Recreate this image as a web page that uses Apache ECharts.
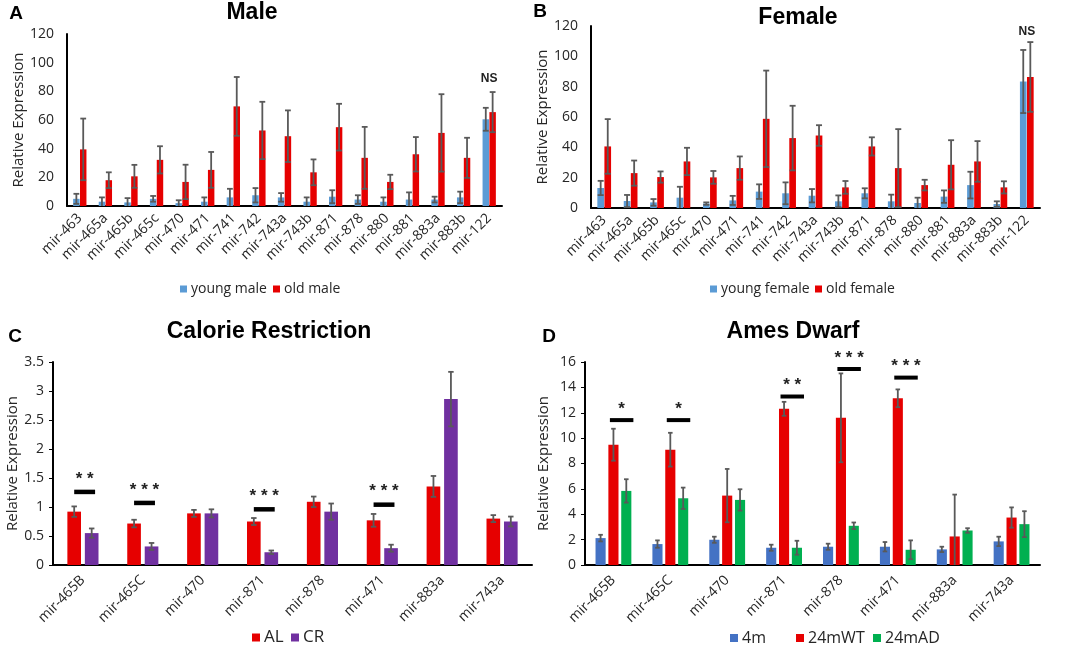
<!DOCTYPE html>
<html><head><meta charset="utf-8">
<script src="https://cdn.jsdelivr.net/npm/echarts@6/dist/echarts.min.js"></script>
<style>html,body{margin:0;padding:0;background:#fff}#c{width:1065px;height:647px}</style>
</head><body><div id="c"></div>
<script>
const catsAB = ['mir-463','mir-465a','mir-465b','mir-465c','mir-470','mir-471','mir-741','mir-742','mir-743a','mir-743b','mir-871','mir-878','mir-880','mir-881','mir-883a','mir-883b','mir-122'];
const youngMale    = [5, 3, 2.5, 5, 2, 3, 6, 7.5, 6, 3, 6.5, 4.5, 3, 4.5, 4.5, 6, 60.5];
const youngMaleErr = [3.5, 3, 3, 2, 2, 3, 6, 5, 3, 3, 4.5, 3, 3, 5, 2, 4, 8];
const oldMale      = [39.5, 18, 20.7, 32.2, 16.8, 25.2, 69.5, 52.7, 48.7, 23.5, 55, 33.6, 16.8, 36.1, 51, 33.6, 65.5];
const oldMaleErr   = [21.5, 5.5, 8, 9.5, 12, 12.5, 20.5, 20, 18, 9, 16.3, 21.6, 5, 12, 27, 14, 14];
const youngFemale    = [13.2, 4.6, 3.7, 6.8, 2.9, 5, 10.8, 9.7, 8.1, 4.4, 9.7, 4.4, 3.3, 7.5, 15.1, 2.6, 83.4];
const youngFemaleErr = [4.7, 4, 2.2, 7.2, 0.8, 3, 4.8, 7.2, 4.4, 3.9, 3.3, 4.4, 3.5, 4.1, 8.8, 1.8, 20.8];
const oldFemale      = [40.6, 23, 20.4, 30.7, 20.2, 26.3, 58.8, 46.1, 47.8, 13.6, 40.6, 26.3, 15.1, 28.5, 30.7, 13.6, 86.4];
const oldFemaleErr   = [18, 8.3, 3.7, 9, 4.2, 7.7, 31.8, 21.3, 6.8, 4.2, 6, 25.7, 3.5, 16.2, 13.4, 4, 23];
const nsA = [[16, 89, 'NS']];
const nsB = [[16, 116, 'NS']];

const catsCD = ['mir-465B','mir-465C','mir-470','mir-871','mir-878','mir-471','mir-883a','mir-743a'];
const crAL    = [0.92, 0.715, 0.89, 0.75, 1.09, 0.77, 1.355, 0.8];
const crALErr = [0.09, 0.065, 0.06, 0.06, 0.09, 0.11, 0.18, 0.06];
const crCR    = [0.55, 0.32, 0.89, 0.22, 0.92, 0.29, 2.86, 0.75];
const crCRErr = [0.08, 0.06, 0.07, 0.03, 0.14, 0.06, 0.47, 0.085];
const sigC = [[0, 1.26, '**'], [1, 1.07, '***'], [3, 0.96, '***'], [5, 1.04, '***']];

const dw4m    = [2.12, 1.65, 1.99, 1.36, 1.44, 1.44, 1.23, 1.86];
const dw4mErr = [0.26, 0.29, 0.24, 0.24, 0.24, 0.37, 0.21, 0.37];
const dwWT    = [9.48, 9.09, 5.47, 12.31, 11.6, 13.14, 2.25, 3.74];
const dwWTErr = [1.26, 1.33, 2.1, 0.55, 3.5, 0.7, 3.3, 0.8];
const dwAD    = [5.84, 5.26, 5.13, 1.36, 3.09, 1.2, 2.72, 3.22];
const dwADErr = [0.92, 0.84, 0.84, 0.55, 0.26, 0.74, 0.18, 1.02];
const sigD = [[0, 11.42, '*'], [1, 11.42, '*'], [3, 13.28, '**'], [4, 15.45, '***'], [5, 14.77, '***']];

const FONT = 'Open Sans';
const RED = '#E60000', BLUE_L = '#5B9BD5', PURPLE = '#7030A0', BLUE_D = '#4472C4', GREEN = '#00B050';
const ERRC = '#595959';

const geo = [
  {n: 2, cg: 0.48, bg: 0.06},
  {n: 2, cg: 0.48, bg: 0.06},
  {n: 2, cg: 0.48, bg: 0.28},
  {n: 3, cg: 0.37, bg: 0.27}
];
function barPos(g, W, i) {
  const tot = W * (1 - g.cg);
  const b = tot / (g.n + (g.n - 1) * g.bg);
  return {off: -tot / 2 + b / 2 + i * b * (1 + g.bg), b: b};
}

function errSeries(p, i, vals, errs, capFrac) {
  const g = geo[p];
  return {
    type: 'custom', xAxisIndex: p, yAxisIndex: p, z: 5, silent: true,
    data: vals.map((v, k) => [k, v, errs[k]]),
    renderItem: function (params, api) {
      const k = api.value(0), v = api.value(1), e = api.value(2);
      const W = api.size([1, 0])[0];
      const bp = barPos(g, W, i);
      const cx = api.coord([k, 0])[0] + bp.off;
      const hiY = api.coord([k, v + e])[1];
      const loV = Math.max(0, v - e);
      const loY = api.coord([k, loV])[1];
      const cw = bp.b * capFrac / 2;
      const st = {stroke: ERRC, lineWidth: 1.8};
      const ch = [
        {type: 'line', shape: {x1: cx, y1: hiY, x2: cx, y2: loY}, style: st},
        {type: 'line', shape: {x1: cx - cw, y1: hiY, x2: cx + cw, y2: hiY}, style: st}
      ];
      if (v - e > 0) ch.push({type: 'line', shape: {x1: cx - cw, y1: loY, x2: cx + cw, y2: loY}, style: st});
      return {type: 'group', children: ch};
    }
  };
}

function sigSeries(p, data, sA, eA, sB, eB, thick, fs, gapPx) {
  const g = geo[p];
  return {
    type: 'custom', xAxisIndex: p, yAxisIndex: p, z: 6, silent: true,
    data: data,
    renderItem: function (params, api) {
      const k = api.value(0), y = api.value(1);
      const txt = data[params.dataIndex][2];
      const W = api.size([1, 0])[0];
      const a = barPos(g, W, sA), b = barPos(g, W, sB);
      const base = api.coord([k, y]);
      const x1 = base[0] + a.off + eA * a.b, x2 = base[0] + b.off + eB * b.b;
      return {type: 'group', children: [
        {type: 'rect', shape: {x: x1, y: base[1] - thick / 2, width: x2 - x1, height: thick}, style: {fill: '#000'}},
        {type: 'text', x: (x1 + x2) / 2, y: base[1] - gapPx,
         style: {text: txt.split('').join(' '), font: 'bold ' + fs + 'px "Liberation Sans"', fill: '#222', textAlign: 'center', textVerticalAlign: 'middle'}}
      ]};
    }
  };
}

function nsSeries(p, data) {
  return {
    type: 'custom', xAxisIndex: p, yAxisIndex: p, z: 6, silent: true, data: data,
    renderItem: function (params, api) {
      const c = api.coord([api.value(0), api.value(1)]);
      return {type: 'text', x: c[0], y: c[1],
        style: {text: data[params.dataIndex][2], font: 'bold 12px "Liberation Sans"', fill: '#222', textAlign: 'center', textVerticalAlign: 'middle'}};
    }
  };
}

function bar(p, name, vals, color, g) {
  return {type: 'bar', name: name, xAxisIndex: p, yAxisIndex: p, data: vals,
    itemStyle: {color: color}, barCategoryGap: (g.cg * 100) + '%', barGap: (g.bg * 100) + '%', z: 3};
}

const grids = [
  {left: 67, top: 34, width: 435, height: 172},
  {left: 591, top: 26, width: 449, height: 182},
  {left: 53, top: 362, width: 479, height: 203},
  {left: 585, top: 362, width: 455, height: 203}
];

function xAx(p, cats, fs, margin) {
  return {type: 'category', gridIndex: p, data: cats,
    axisLine: {lineStyle: {color: '#000', width: 2}}, axisTick: {show: false},
    axisLabel: {rotate: 45, interval: 0, margin: margin, fontFamily: FONT, fontSize: fs, color: '#262626'}};
}
function yAx(p, max, interval, gap, ticks) {
  return {type: 'value', gridIndex: p, min: 0, max: max, interval: interval,
    name: 'Relative Expression', nameLocation: 'middle', nameGap: gap,
    nameTextStyle: {fontFamily: FONT, fontSize: 15, color: '#262626'},
    splitLine: {show: false},
    axisLine: {show: true, lineStyle: {color: '#000', width: 2}},
    axisTick: {show: ticks, length: 4, lineStyle: {color: '#000'}},
    axisLabel: {fontFamily: FONT, fontSize: 14, color: '#262626', margin: ticks ? 9 : 13}};
}
function leg(name, left, top, size, fs) {
  return {data: [name], left: left, top: top, padding: 0, itemWidth: size, itemHeight: size, icon: 'rect',
    textStyle: {fontFamily: FONT, fontSize: fs, color: '#262626', padding: [0, 0, 0, -1]}};
}

const chart = echarts.init(document.getElementById('c'), null, {renderer: 'canvas'});
chart.setOption({
  animation: false,
  backgroundColor: '#fff',
  grid: grids,
  xAxis: [xAx(0, catsAB, 14, 10), xAx(1, catsAB, 14, 10), xAx(2, catsCD, 14, 13), xAx(3, catsCD, 14, 13)],
  yAxis: [yAx(0, 120, 20, 40, false), yAx(1, 120, 20, 38, false), yAx(2, 3.5, 0.5, 31, true), yAx(3, 16, 2, 34, true)],
  legend: [
    leg('young male', 180, 282, 7, 14),
    leg('old male', 273, 282, 7, 14),
    leg('young female', 710, 282, 7, 14),
    leg('old female', 815, 282, 7, 14),
    leg('AL', 252, 629, 8, 17),
    leg('CR', 291, 629, 8, 17),
    leg('4m', 730, 630, 8, 16),
    leg('24mWT', 796, 630, 8, 16),
    leg('24mAD', 873, 630, 8, 16)
  ],
  graphic: [
    {type: 'text', x: 252, y: 13, style: {text: 'Male', font: 'bold 23px "Liberation Sans"', fill: '#000', textAlign: 'center', textVerticalAlign: 'middle'}},
    {type: 'text', x: 798, y: 18, style: {text: 'Female', font: 'bold 23px "Liberation Sans"', fill: '#000', textAlign: 'center', textVerticalAlign: 'middle'}},
    {type: 'text', x: 269, y: 332, style: {text: 'Calorie Restriction', font: 'bold 23px "Liberation Sans"', fill: '#000', textAlign: 'center', textVerticalAlign: 'middle'}},
    {type: 'text', x: 793, y: 332, style: {text: 'Ames Dwarf', font: 'bold 23px "Liberation Sans"', fill: '#000', textAlign: 'center', textVerticalAlign: 'middle'}},
    {type: 'text', x: 16, y: 14, style: {text: 'A', font: 'bold 19px "Liberation Sans"', fill: '#000', textAlign: 'center', textVerticalAlign: 'middle'}},
    {type: 'text', x: 540, y: 12, style: {text: 'B', font: 'bold 19px "Liberation Sans"', fill: '#000', textAlign: 'center', textVerticalAlign: 'middle'}},
    {type: 'text', x: 15, y: 337, style: {text: 'C', font: 'bold 19px "Liberation Sans"', fill: '#000', textAlign: 'center', textVerticalAlign: 'middle'}},
    {type: 'text', x: 549, y: 337, style: {text: 'D', font: 'bold 19px "Liberation Sans"', fill: '#000', textAlign: 'center', textVerticalAlign: 'middle'}}
  ],
  series: [
    bar(0, 'young male', youngMale, BLUE_L, geo[0]),
    bar(0, 'old male', oldMale, RED, geo[0]),
    errSeries(0, 0, youngMale, youngMaleErr, 0.9),
    errSeries(0, 1, oldMale, oldMaleErr, 0.9),
    nsSeries(0, nsA),

    bar(1, 'young female', youngFemale, BLUE_L, geo[1]),
    bar(1, 'old female', oldFemale, RED, geo[1]),
    errSeries(1, 0, youngFemale, youngFemaleErr, 0.9),
    errSeries(1, 1, oldFemale, oldFemaleErr, 0.9),
    nsSeries(1, nsB),

    bar(2, 'AL', crAL, RED, geo[2]),
    bar(2, 'CR', crCR, PURPLE, geo[2]),
    errSeries(2, 0, crAL, crALErr, 0.4),
    errSeries(2, 1, crCR, crCRErr, 0.4),
    sigSeries(2, sigC, 0, 0, 1, 0.25, 4.5, 17, 13),

    bar(3, '4m', dw4m, BLUE_D, geo[3]),
    bar(3, '24mWT', dwWT, RED, geo[3]),
    bar(3, '24mAD', dwAD, GREEN, geo[3]),
    errSeries(3, 0, dw4m, dw4mErr, 0.45),
    errSeries(3, 1, dwWT, dwWTErr, 0.45),
    errSeries(3, 2, dwAD, dwADErr, 0.45),
    sigSeries(3, sigD, 1, -0.35, 2, 0.7, 4, 17, 11)
  ]
});
</script></body></html>
